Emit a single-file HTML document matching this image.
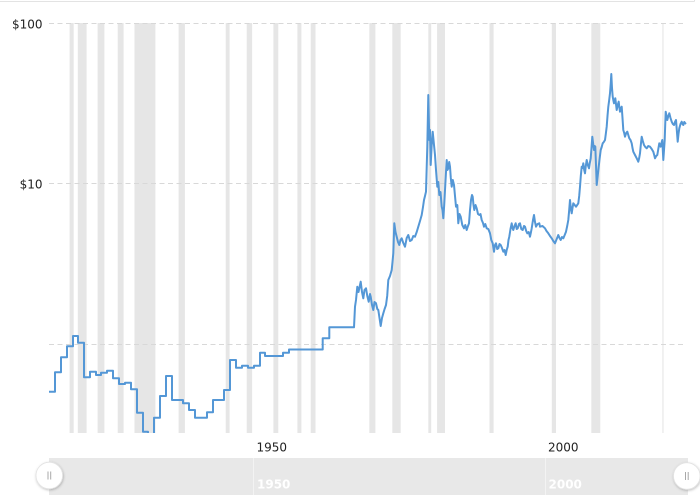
<!DOCTYPE html>
<html>
<head>
<meta charset="utf-8">
<style>
  html,body{margin:0;padding:0;background:#fff;}
  body{width:700px;height:495px;overflow:hidden;}
  svg{display:block;}
  .lbl{font-family:"DejaVu Sans","Liberation Sans",sans-serif;font-size:12px;fill:#222;}
  .nlbl{font-family:"DejaVu Sans","Liberation Sans",sans-serif;font-size:12px;fill:#fff;font-weight:bold;}
</style>
</head>
<body>
<svg width="700" height="495" viewBox="0 0 700 495" xmlns="http://www.w3.org/2000/svg">
  <defs>
    <clipPath id="plot"><rect x="49" y="23" width="640" height="410"/></clipPath>
    <filter id="sh" x="-50%" y="-50%" width="200%" height="200%">
      <feDropShadow dx="0.5" dy="1" stdDeviation="1.2" flood-color="#000" flood-opacity="0.25"/>
    </filter>
  </defs>

  <!-- top border remnant -->
  <line x1="0" y1="1.5" x2="694.5" y2="1.5" stroke="#e3e3e3" stroke-width="1"/>
  <line x1="694.5" y1="0" x2="694.5" y2="1.5" stroke="#e3e3e3" stroke-width="1"/>

  <!-- recession bands -->
  <g fill="#e6e6e6">
    <rect x="69.6" y="23" width="4.1" height="410"/>
    <rect x="77.8" y="23" width="8.8" height="410"/>
    <rect x="97.6" y="23" width="6.8" height="410"/>
    <rect x="117.7" y="23" width="5.9" height="410"/>
    <rect x="134.5" y="23" width="20.9" height="410"/>
    <rect x="178.6" y="23" width="6.3" height="410"/>
    <rect x="225.7" y="23" width="3.9" height="410"/>
    <rect x="246.7" y="23" width="5.4" height="410"/>
    <rect x="273.4" y="23" width="4.9" height="410"/>
    <rect x="297.4" y="23" width="4.0" height="410"/>
    <rect x="310.7" y="23" width="4.8" height="410"/>
    <rect x="369.3" y="23" width="6.1" height="410"/>
    <rect x="392.3" y="23" width="8.4" height="410"/>
    <rect x="428.3" y="23" width="2.9" height="410"/>
    <rect x="437.1" y="23" width="7.9" height="410"/>
    <rect x="489.5" y="23" width="4.1" height="410"/>
    <rect x="551.8" y="23" width="4.2" height="410"/>
    <rect x="591.3" y="23" width="9.0" height="410"/>
    <rect x="662.4" y="23" width="1.1" height="410"/>
  </g>

  <!-- grid lines -->
  <g stroke="#d8d8d8" stroke-width="1" stroke-dasharray="5,3.5">
    <line x1="49" y1="23.5" x2="684" y2="23.5"/>
    <line x1="49" y1="183.5" x2="684" y2="183.5"/>
    <line x1="49" y1="344.5" x2="684" y2="344.5"/>
  </g>

  <!-- y labels -->
  <text class="lbl" x="42.5" y="28.3" text-anchor="end">$100</text>
  <text class="lbl" x="42.5" y="188.3" text-anchor="end">$10</text>

  <!-- series -->
  <g clip-path="url(#plot)">
    <path fill="none" stroke="#5497d6" stroke-width="2" stroke-linejoin="round" d="
      M49,391.7 H55 V372.3 H61 V357.3 H67 V346.3 H73 V336 H78 V342.7 H84 V377.3 H90 V371.7 H96 V375 H101 V372.7 H107 V370.7 H113 V378.3 H119 V384 H125 V382.7 H131 V389.3 H137 V412.7 H143 V431.7 H148 V434 H154 V417.7 H160 V396 H166 V376 H172 V400 H183 V403.3 H189 V410 H195 V417.7 H207 V412.3 H213 V400 H224 V390 H230 V360 H236 V367.7 H242 V365.7 H248 V367.7 H254 V365.7 H260 V352.7 H265 V356 H283 V352.7 H289 V349.5 H322.7 V338.3 H329.3 V327.3 H354
      L355,306.7 L356,300 L357.3,286.7 L358.5,292 L360.7,281.7 L362,292 L363.3,298.3 L364.5,290 L366,288.3 L367.3,296 L368.7,301.7 L370,294 L370.7,296.7 L372,305 L373.3,310 L374.5,302 L376,303.3 L377.3,309 L378.3,310 L379.5,318 L380.7,326 L382,318 L383.3,313.3 L384.6,309 L386,305 L387.2,296 L388.3,280 L390,276 L391.7,270 L392.5,262 L393.3,253.3 L394.3,223.3 L395.5,232 L396.7,236.7 L398,242 L399.3,245 L400.5,240 L401.7,238.3 L403.3,243 L405,246.7 L406.7,238 L408.3,235 L410,241 L411.7,240 L413.3,236 L415,236.7 L416.7,232 L418.3,226.7 L420,221 L421.7,215 L423,207 L424,200 L425,196 L426,191.7 L427.3,146.7 L428.3,95 L429.3,140 L430,130 L430.7,165 L431.7,145 L432.7,131.7 L434,145 L435,155 L436,170 L437.3,186.7 L438.3,182 L439.3,195 L440.5,192 L441.7,206.7 L442.5,210 L443.3,218.3 L444.2,205 L445,190 L446,172 L446.7,160 L447.5,170 L448.3,168.3 L449.2,162 L450,166.7 L450.8,178 L451.7,186.7 L452.8,180 L454,185 L455,196 L456,206.7 L457.3,205 L458.3,223.3 L459.5,214 L460.7,216.7 L462.3,225 L464,228.3 L465.3,225 L466.7,230 L468,226 L469,223.3 L470,210 L471,200 L472,195 L472.7,196.7 L473.5,205 L474.3,210 L475.5,205 L476.7,208.3 L478,214 L479.3,215 L480.5,214 L481.7,220 L483,223 L484,226.7 L485.3,224 L486.7,228.3 L488.3,229 L490,233.3 L491.3,240 L492.7,243.3 L494,251.7 L495,245 L496,243.3 L497.2,249 L498.3,248.3 L499.5,244 L500.7,245 L502,248 L503.3,251.7 L504.5,250 L505.7,255 L506.7,250 L507.7,246.7 L508.5,240 L509.3,236.7 L510.5,229 L511.7,223.3 L512.5,228 L513.3,230 L514.5,226 L515.7,223.3 L516.7,229 L517.7,228.3 L519,224 L520,223.3 L521.3,229 L522.7,230 L524,226 L525,226.7 L526.2,231 L527.3,233.3 L528.7,232 L530,236.7 L531,232 L531.7,228.3 L533,220 L534,215 L535,222 L536,226.7 L537.5,224 L539.3,223.3
      L540,226.7 L542.5,226 L545,228.3 L546.5,231 L548.3,233.3 L550,236 L551.7,238.3 L553.3,241 L555,243.3 L556.7,239 L558.3,235 L559.5,238 L560.7,240 L562,237 L563.3,238.3 L564.7,235 L566,231.7 L567.2,226 L568.3,220 L569.2,210 L570,200 L570.8,208 L571.7,213.3 L572.5,208 L573.3,203.3 L574.7,205 L576,206.7 L577.2,205 L578.3,203.3 L579.2,196 L580,186.7 L580.8,176 L581.7,166.7 L582.5,168 L583.3,163.3 L584.2,170 L585,173.3 L585.8,166 L586.7,160 L587.8,165 L589,168.3 L589.8,163 L590.7,158.3 L591.5,148 L592.3,136.7 L593.2,144 L594,150 L594.7,146 L595.3,146.7 L596,165 L596.7,185 L597.7,176 L598.7,166.7 L599.7,158 L600.7,150 L601.7,147 L602.7,143.3 L603.8,142 L605,140 L605.8,134 L606.7,126.7 L607.5,116 L608.3,106.7 L609.2,100 L610,93.3 L610.7,84 L611.3,74 L612,88 L612.7,96.7 L613.3,100 L614,103.3 L614.7,100 L615.3,98.3 L616,104 L616.7,110 L617.7,105 L618.7,101.7 L619.3,107 L620,111.7 L620.8,108 L621.7,106.7 L622.5,118 L623.3,130 L624.2,133 L625,136.7 L626.2,133 L627.3,131.7 L628.3,135 L629.3,138.3 L630.5,140 L631.7,143.3 L632.5,148 L633.3,151.7 L635,155 L636.7,158.3 L637.5,160 L638.3,161.7 L639.2,158 L640,153.3 L640.8,145 L641.7,136.7 L642.8,141 L644,145 L645.3,147 L646.7,148.3 L648.3,146 L650,146.7 L651.7,149 L653.3,151.7 L654.2,155 L655,158.3 L656.2,156 L657.3,155 L658.3,149 L659.3,143.3 L660,146 L660.7,146.7 L661.5,143 L662.3,140 L662.8,150 L663.3,160 L664,150 L664.7,140 L665.2,125 L665.7,111.7 L666.5,116 L667.3,120 L668.3,116 L669.3,113.3 L670.5,118 L671.7,121.7 L672.8,124 L674,125 L675,122 L676,120 L676.8,130 L677.7,141.7 L678.5,134 L679.3,128.3 L680.5,124 L681.7,121.7 L682.5,124 L683.3,125 L684.3,122 L685.3,123.3 L686,124"/>
  </g>

  <!-- x axis labels -->
  <text class="lbl" x="256.5" y="451.7">1950</text>
  <text class="lbl" x="548" y="451.7">2000</text>

  <!-- navigator -->
  <rect x="49" y="458" width="639" height="40" fill="#e8e8e8"/>
  <line x1="253.5" y1="458" x2="253.5" y2="495" stroke="#f3f3f3" stroke-width="1"/>
  <line x1="545.5" y1="458" x2="545.5" y2="495" stroke="#f3f3f3" stroke-width="1"/>
  <text class="nlbl" x="257" y="488.5">1950</text>
  <text class="nlbl" x="548.5" y="488.5">2000</text>

  <!-- handles -->
  <g filter="url(#sh)">
    <circle cx="49.3" cy="475.5" r="13.3" fill="#fff" stroke="#e2e2e2" stroke-width="0.8"/>
    <circle cx="686.8" cy="476" r="13.3" fill="#fff" stroke="#e2e2e2" stroke-width="0.8"/>
  </g>
  <g stroke="#a8a8a8" stroke-width="1">
    <line x1="48" y1="471.5" x2="48" y2="479.5"/>
    <line x1="50.7" y1="471.5" x2="50.7" y2="479.5"/>
    <line x1="685.5" y1="472" x2="685.5" y2="480"/>
    <line x1="688.2" y1="472" x2="688.2" y2="480"/>
  </g>
</svg>
</body>
</html>
